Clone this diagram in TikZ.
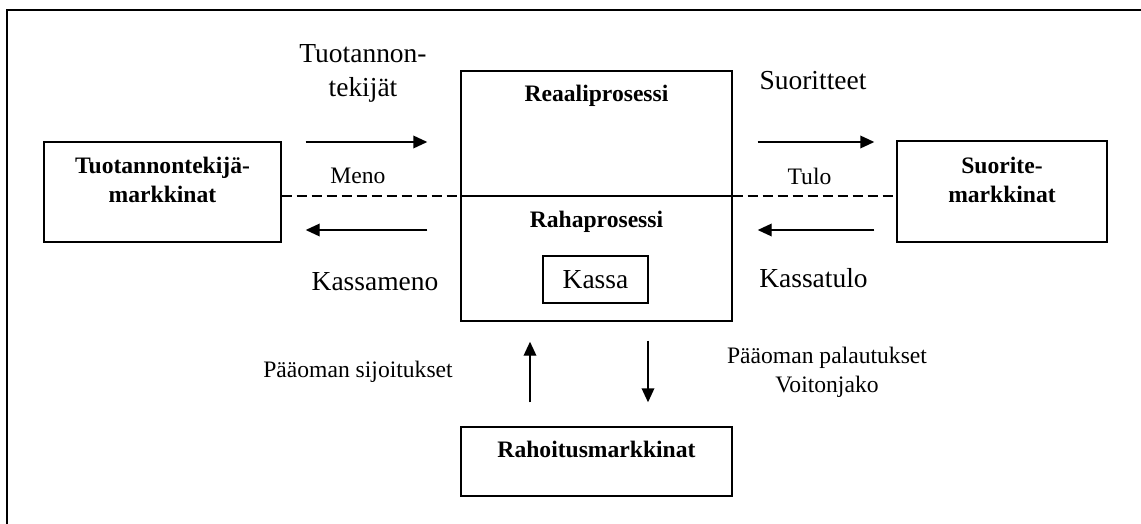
\documentclass[tikz,border=0pt]{standalone}
\usepackage{fontspec}
\setmainfont{Liberation Serif}
\usetikzlibrary{arrows.meta}
\newcommand{\bigfnt}{\fontsize{20.6pt}{25.5pt}\selectfont}
\newcommand{\smallfnt}{\fontsize{17.7pt}{22pt}\selectfont}

\begin{document}
\begin{tikzpicture}[x=0.75pt, y=-0.75pt,
		box/.style={draw, line width=1.1pt, inner sep=0pt, font=\smallfnt\bfseries},
		lbl/.style={inner sep=0pt, font=\bigfnt},
		sml/.style={inner sep=0pt, font=\smallfnt},
		hd/.style={inner sep=0pt, font=\smallfnt\bfseries},
		arr/.style={-{Triangle[length=10.5pt, width=9.5pt]}, line width=1.1pt},
		split/.style={line width=1.1pt},
		gap/.style={line width=0.9pt, dash pattern=on 7.5pt off 3.75pt},
		frame/.style={line width=1.6pt}]
		\clip (0,0) rectangle (1141,524);
		\draw[frame] (7,540) -- (7,10) -- (1160,10);
		\coordinate (ytop) at (0,142);
		\coordinate (ybot) at (0,230);
		\coordinate (ymid) at (0,196);
		\coordinate (xup) at (530,0);
		\coordinate (xdn) at (648,0);
		\node[box] (tk) at (162.5,192)
			{\begin{minipage}[c][75pt][t]{177.75pt}\centering
			\rule{0pt}{23.25pt}Tuotannontekijä-\\markkinat\end{minipage}};
		\node[box, minimum width=203.25pt, minimum height=187.5pt] (proc) at (596.5,196) {};
		\node[hd, anchor=base] (real) at (596.5,102) {Reaaliprosessi};
		\node[hd, anchor=base] (raha) at (596.5,227) {Rahaprosessi};
		\node[box, font=\bigfnt, minimum width=78.75pt, minimum height=35.25pt] (kas) at (595.5,279.5) {Kassa};
		\node[box] (suo) at (1002,191.5)
			{\begin{minipage}[c][75.75pt][t]{157.5pt}\centering
			\rule{0pt}{24pt}Suorite-\\markkinat\end{minipage}};
		\node[box] (rah) at (596.5,461.5)
			{\begin{minipage}[c][51.75pt][t]{203.25pt}\centering
			\rule{0pt}{22.5pt}Rahoitusmarkkinat\end{minipage}};
		\node[lbl, align=center] (tkin) at (363,73.5) {Tuotannon-\\tekijät};
		\node[sml, anchor=base] (meno) at (358,183) {Meno};
		\node[lbl, anchor=base] (kmeno) at (375,290) {Kassameno};
		\node[lbl, anchor=base] (suor) at (813,90) {Suoritteet};
		\node[sml, anchor=base] (tulo) at (809.5,185) {Tulo};
		\node[lbl, anchor=base] (ktulo) at (813.5,287) {Kassatulo};
		\node[sml, anchor=base] (sij) at (358,377) {Pääoman sijoitukset};
		\node[sml, align=center] (pal) at (827,372) {Pääoman palautukset\\Voitonjako};
		\draw[split] (proc.west |- ymid) -- (proc.east |- ymid);
		\draw[gap] (tk.east |- ymid) -- (proc.west |- ymid);
		\draw[gap] (proc.east |- ymid) -- (suo.west |- ymid);
		\draw[arr, shorten <=18pt, shorten >=24.75pt] (tk.east |- ytop) -- (proc.west |- ytop);
		\draw[arr, shorten <=24.75pt, shorten >=18pt] (proc.west |- ybot) -- (tk.east |- ybot);
		\draw[arr, shorten <=18.75pt, shorten >=16.5pt] (proc.east |- ytop) -- (suo.west |- ytop);
		\draw[arr, shorten <=16.5pt, shorten >=18.75pt] (suo.west |- ybot) -- (proc.east |- ybot);
		\draw[arr, shorten <=18pt, shorten >=15pt] (rah.north -| xup) -- (proc.south -| xup);
		\draw[arr, shorten <=14.25pt, shorten >=18pt] (proc.south -| xdn) -- (rah.north -| xdn);
	\end{tikzpicture}
\end{document}
